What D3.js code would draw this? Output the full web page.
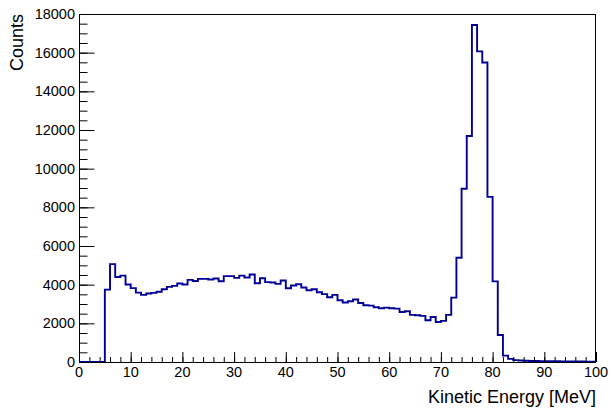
<!DOCTYPE html>
<html>
<head>
<meta charset="utf-8">
<script src="https://cdn.jsdelivr.net/npm/d3@7"></script>
<style>
  html, body { margin: 0; padding: 0; background: #fff; }
  svg { display: block; }
  text { font-family: "Liberation Sans", Arial, Helvetica, sans-serif; fill: #000; }
</style>
</head>
<body>
<svg id="chart" width="615" height="411"></svg>
<script>
// Histogram: 100 bins of 1 MeV from 0 to 100 MeV
const xMin = 0;
const xMax = 100;
const binWidth = 1;
const counts = [
  0, 0, 0, 0, 0,
  3746, 5060, 4400, 4470, 4010,
  3820, 3590, 3470, 3540, 3575,
  3630, 3765, 3885, 3940, 4060,
  4010, 4250, 4190, 4300, 4300,
  4265, 4320, 4180, 4440, 4440,
  4350, 4470, 4370, 4525, 4075,
  4335, 4130, 4110, 4040, 4215,
  3815, 3955, 4025, 3850, 3715,
  3765, 3610, 3510, 3350, 3470,
  3195, 3075, 3145, 3230, 3055,
  2935, 2915, 2830, 2780, 2815,
  2780, 2760, 2590, 2625, 2435,
  2420, 2385, 2160, 2330, 2070,
  2125, 2435, 3330, 5390, 8960,
  11690, 17430, 16065, 15490, 8540,
  4170, 1400, 330, 160, 95,
  75, 65, 55, 50, 45,
  40, 38, 35, 32, 30,
  27, 25, 22, 20, 18
];
const yMax = 18000;
const xTickValues = [0, 10, 20, 30, 40, 50, 60, 70, 80, 90, 100];
const yTickValues = [0, 2000, 4000, 6000, 8000, 10000, 12000, 14000, 16000, 18000];
const xTitle = "Kinetic Energy [MeV]";
const yTitle = "Counts";

const svg = d3.select("#chart");
const L = 79, R = 596, T = 14, B = 362;

const x = d3.scaleLinear().domain([xMin, xMax]).range([L, R]);
const y = d3.scaleLinear().domain([0, yMax]).range([B, T]);

// Histogram outline
let d = `M${x(xMin)},${y(0)}`;
counts.forEach((c, i) => {
  const x0 = xMin + i * binWidth;
  d += `V${y(c)}H${x(x0 + binWidth)}`;
});
d += `V${y(0)}`;

svg.append("path")
  .attr("d", d)
  .attr("fill", "none")
  .attr("stroke", "#000099")
  .attr("stroke-width", 1.9)
  .attr("stroke-linejoin", "miter");

// Frame
svg.append("rect")
  .attr("x", L + 0.5).attr("y", T + 0.5)
  .attr("width", R - L - 1).attr("height", B - T)
  .attr("fill", "none").attr("stroke", "#000").attr("stroke-width", 1);

// X axis (ticks pointing up)
const xMinor = d3.range(xMin, xMax + 0.001, 2);
const xAxisMajor = d3.axisTop(x).tickValues(xTickValues).tickSize(10).tickFormat("");
const xAxisMinor = d3.axisTop(x).tickValues(xMinor).tickSize(5).tickFormat("");
const gx = svg.append("g").attr("transform", `translate(0,${B})`);
gx.call(xAxisMinor);
gx.append("g").call(xAxisMajor);
gx.selectAll(".domain").remove();
gx.selectAll("line").attr("stroke", "#000");

svg.append("g").selectAll("text")
  .data(xTickValues).join("text")
  .attr("x", v => x(v))
  .attr("y", B + 15)
  .attr("text-anchor", "middle")
  .attr("font-size", "14.5px")
  .text(v => v);

// Y axis (ticks pointing right)
const yMinor = d3.range(0, yMax + 0.001, 500);
const yAxisMajor = d3.axisRight(y).tickValues(yTickValues).tickSize(15).tickFormat("");
const yAxisMinor = d3.axisRight(y).tickValues(yMinor).tickSize(8).tickFormat("");
const gy = svg.append("g").attr("transform", `translate(${L + 0.5},0)`);
gy.call(yAxisMinor);
gy.append("g").call(yAxisMajor);
gy.selectAll(".domain").remove();
gy.selectAll("line").attr("stroke", "#000");

svg.append("g").selectAll("text")
  .data(yTickValues).join("text")
  .attr("x", L - 4)
  .attr("y", v => y(v) + 5)
  .attr("text-anchor", "end")
  .attr("font-size", "14.5px")
  .text(v => v);

// Axis titles
svg.append("text")
  .attr("x", R)
  .attr("y", 403)
  .attr("text-anchor", "end")
  .attr("font-size", "18px")
  .text(xTitle);

svg.append("text")
  .attr("transform", `translate(23,${T}) rotate(-90)`)
  .attr("text-anchor", "end")
  .attr("font-size", "18px")
  .text(yTitle);
</script>
</body>
</html>
